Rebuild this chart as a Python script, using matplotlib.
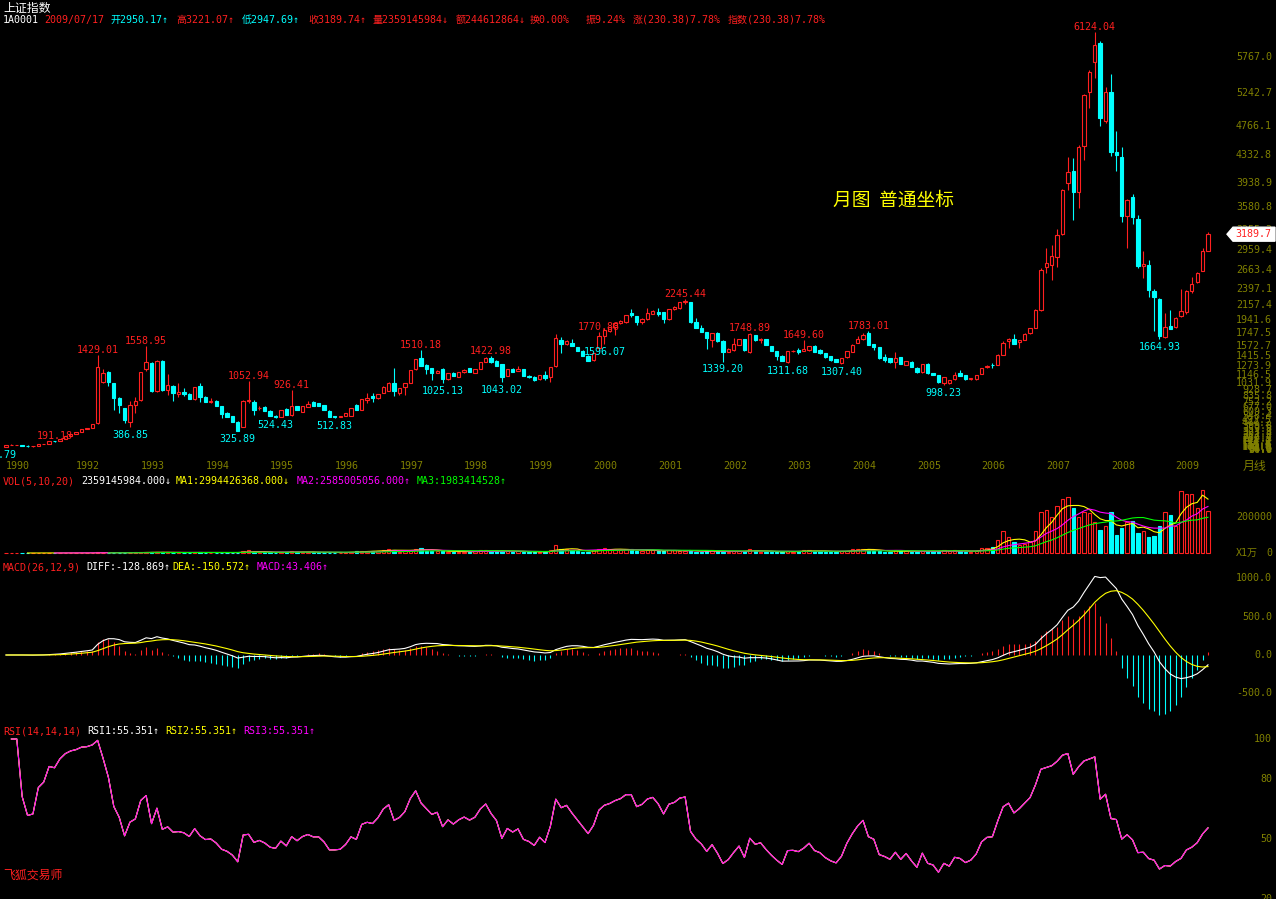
import numpy as np
import pandas as pd
import matplotlib; matplotlib.use("agg")
import matplotlib.pyplot as plt
from matplotlib.patches import Rectangle, Polygon

# monthly bars, Dec 1990 .. Jul 2009 (上证指数)
opens = [
    96.05,
    127.6, 130.0, 133.0, 120.2, 113.9, 114.8, 137.6, 145.2, 180.9, 180.2, 218.6, 259.6,
    292.8, 313.2, 364.8, 377.9, 443, 1040, 1193, 1023, 815, 660, 467, 709,
    781, 1231, 1323, 917, 1352, 926, 985, 868, 902, 868, 796, 985,
    830, 757, 767, 694, 588, 549, 462, 394, 767, 747, 660, 675,
    626, 554, 539, 646, 563, 694, 612, 684, 757, 733, 709, 626,
    545, 539, 549, 554, 709, 636, 781, 839, 805, 888, 917, 1033,
    878, 965, 1033, 1226, 1386, 1290, 1241, 1178, 1226, 1081, 1178, 1120,
    1183, 1241, 1178, 1231, 1338, 1396, 1348, 1299, 1130, 1236, 1207, 1226,
    1130, 1120, 1081, 1144, 1120, 1275, 1652, 1594, 1614, 1546, 1497, 1425,
    1362, 1540, 1714, 1783, 1836, 1894, 1909, 2040, 2001, 1909, 1957, 2030,
    2064, 2054, 1957, 2098, 2112, 2199, 2199, 1919, 1831, 1764, 1649, 1749,
    1638, 1483, 1507, 1580, 1662, 1483, 1725, 1652, 1662, 1565, 1497, 1425,
    1338, 1492, 1507, 1497, 1507, 1565, 1507, 1468, 1420, 1372, 1313, 1401,
    1483, 1614, 1662, 1759, 1594, 1546, 1401, 1386, 1328, 1401, 1289, 1338,
    1251, 1183, 1299, 1178, 1144, 1023, 1023, 1081, 1178, 1144, 1090, 1081,
    1159, 1255, 1290, 1290, 1435, 1638, 1667, 1619, 1653, 1750, 1832, 2089,
    2718, 2743, 2863, 3188, 3938, 4108, 3798, 4476, 5250, 5686, 5962, 4839,
    5250, 4388, 4306, 3459, 3725, 3410, 2733, 2742, 2365, 2249, 1702, 1857,
    1847, 2007, 2055, 2365, 2491, 2660, 2950.17,
]
highs = [
    127.61,
    135.2, 134.9, 134.9, 121.0, 116.0, 137.6, 146.0, 181.0, 191.18, 219.0, 260.0, 293.0,
    313.5, 365.0, 378.5, 440.0, 1429.01, 1226, 1200, 1030, 830, 670, 760, 830,
    1190, 1558.95, 1330, 1358, 1360, 1154, 1000, 1023, 951, 880, 975, 1023,
    840, 815, 775, 700, 600, 555, 470, 775, 1052.94, 781, 700, 690,
    640, 560, 640, 660, 926.41, 700, 700, 770, 770, 740, 715, 630,
    550, 548, 592, 665, 720, 800, 878, 878, 875, 980, 1040, 1241,
    955, 1025, 1220, 1375, 1510.18, 1300, 1250, 1210, 1240, 1170, 1185, 1190,
    1225, 1250, 1232, 1332, 1400, 1422.98, 1360, 1305, 1232, 1242, 1275, 1232,
    1140, 1125, 1150, 1198, 1260, 1739, 1700, 1650, 1668, 1552, 1505, 1430,
    1470, 1770.88, 1823, 1845, 1900, 1940, 2023, 2098, 2005, 1970, 2112, 2085,
    2112, 2065, 2110, 2148, 2210, 2245.44, 2205, 1967, 1870, 1770, 1760, 1773,
    1650, 1530, 1677, 1670, 1670, 1748.89, 1730, 1686, 1670, 1570, 1500, 1430,
    1500, 1510, 1532, 1649.60, 1570, 1575, 1515, 1470, 1425, 1380, 1390, 1500,
    1590, 1710, 1760, 1783.01, 1600, 1550, 1449, 1390, 1483, 1405, 1355, 1345,
    1260, 1305, 1323, 1180, 1150, 1115, 1075, 1192, 1216, 1150, 1100, 1150,
    1245, 1285, 1313, 1445, 1645, 1680, 1740, 1660, 1760, 1830, 2100, 2698,
    2985, 3033, 3265, 3840, 4316, 4292, 4480, 5230, 5580, 6124.04, 5995, 5332,
    5512, 4689, 4451, 3700, 3774, 3468, 2946, 2815, 2390, 2260, 2040, 2089,
    1991, 2394, 2380, 2565, 2640, 2985, 3221.07,
]
lows = [
    95.79,
    127.6, 129.0, 120.0, 105.0, 104.0, 114.0, 137.0, 145.0, 178.0, 180.0, 218.0, 259.0,
    292.0, 313.0, 364.0, 377.0, 440.0, 1030, 990, 636, 588, 443, 386.85, 588,
    770, 1200, 900, 900, 910, 854, 772, 820, 839, 790, 780, 747,
    750, 743, 690, 525, 530, 460, 325.89, 390, 740, 560, 643, 620,
    550, 524.43, 530, 560, 550, 630, 600, 680, 690, 690, 630, 535,
    512.83, 535, 545, 550, 630, 630, 743, 757, 800, 885, 915, 839,
    854, 854, 1030, 1220, 1270, 1154, 1072, 1170, 1025.13, 1075, 1125, 1110,
    1178, 1188, 1170, 1228, 1335, 1325, 1270, 1043.02, 1125, 1188, 1200, 1125,
    1100, 1064, 1075, 1072, 1050, 1260, 1470, 1580, 1560, 1490, 1418, 1341,
    1355, 1530, 1596.07, 1770, 1725, 1890, 1900, 1981, 1870, 1890, 1950, 2025,
    2006, 1894, 1950, 2090, 2105, 2180, 1900, 1820, 1765, 1517, 1555, 1628,
    1339.20, 1475, 1500, 1575, 1500, 1470, 1640, 1614, 1575, 1490, 1362, 1345,
    1311.68, 1480, 1445, 1490, 1500, 1475, 1450, 1395, 1355, 1330, 1307.40, 1395,
    1480, 1605, 1655, 1575, 1507, 1380, 1338, 1320, 1241, 1300, 1285, 1260,
    1180, 1180, 1165, 1140, 1035, 998.23, 1020, 1075, 1125, 1075, 1075, 1075,
    1155, 1250, 1241, 1285, 1430, 1541, 1595, 1542, 1650, 1745, 1825, 2080,
    2621, 2524, 2718, 3180, 3832, 3396, 3565, 4267, 5018, 5460, 4766, 4800,
    4330, 4112, 3362, 2985, 3333, 2694, 2558, 2283, 1784, 1664.93, 1678, 1810,
    1832, 1990, 2037, 2330, 2480, 2650, 2947.69,
]
closes = [
    127.61,
    130.0, 133.0, 120.2, 113.9, 114.8, 137.6, 145.2, 180.9, 180.2, 218.6, 259.6, 292.8,
    313.2, 364.8, 377.9, 439.5, 1266, 1168, 1047, 815, 709, 491, 709, 767,
    1183, 1328, 917, 1352, 926, 994, 878, 893, 868, 796, 965, 830,
    757, 767, 694, 578, 539, 467, 333, 767, 781, 636, 670, 626,
    554, 534, 636, 563, 694, 636, 694, 723, 694, 694, 636, 539,
    539, 545, 588, 660, 636, 791, 815, 805, 868, 975, 1033, 917,
    951, 1023, 1217, 1372, 1275, 1226, 1178, 1207, 1081, 1168, 1130, 1183,
    1217, 1193, 1226, 1328, 1396, 1328, 1275, 1120, 1226, 1193, 1226, 1130,
    1110, 1072, 1144, 1096, 1255, 1676, 1594, 1638, 1565, 1497, 1425, 1352,
    1460, 1705, 1800, 1836, 1894, 1933, 2015, 2015, 1919, 1957, 2049, 2078,
    2030, 1952, 2098, 2127, 2199, 2218, 1919, 1831, 1773, 1677, 1749, 1638,
    1483, 1522, 1594, 1662, 1507, 1735, 1652, 1670, 1580, 1497, 1420, 1352,
    1497, 1500, 1483, 1517, 1565, 1483, 1459, 1401, 1362, 1338, 1386, 1492,
    1580, 1662, 1725, 1580, 1555, 1386, 1362, 1328, 1386, 1304, 1352, 1265,
    1183, 1299, 1168, 1144, 1038, 1110, 1072, 1144, 1130, 1081, 1099, 1144,
    1241, 1280, 1285, 1435, 1614, 1668, 1595, 1653, 1735, 1823, 2089, 2670,
    2767, 2873, 3178, 3832, 4098, 3807, 4461, 5211, 5540, 5938, 4872, 5250,
    4379, 4340, 3459, 3686, 3435, 2733, 2752, 2379, 2283, 1716, 1847, 1813,
    1968, 2074, 2365, 2462, 2621, 2946, 3189.74,
]
# volume, units of 万
volumes = [
    50,
    80, 60, 70, 60, 50, 90, 100, 150, 200, 250, 300, 350,
    500, 700, 800, 900, 3500, 2500, 2000, 1500, 1500, 1200, 2500, 2800,
    4000, 5000, 4000, 4500, 3500, 3000, 2500, 3000, 2500, 2000, 3500, 3000,
    2500, 2000, 2500, 2500, 2500, 2000, 2500, 12000, 15000, 6000, 4000, 3000,
    3000, 2500, 4000, 3500, 12000, 4000, 4500, 5000, 3500, 3000, 2500, 2000,
    2000, 1500, 3000, 8000, 9000, 12000, 9000, 9000, 12000, 18000, 20000, 18000,
    8000, 10000, 18000, 25000, 28000, 12000, 10000, 9000, 10000, 8000, 7000, 8000,
    7000, 6000, 9000, 14000, 15000, 12000, 9000, 10000, 9000, 7000, 9000, 8000,
    6000, 5000, 7000, 7000, 15000, 45000, 20000, 22000, 15000, 9000, 8000, 7000,
    15000, 25000, 28000, 20000, 16000, 17000, 20000, 22000, 12000, 12000, 16000, 14000,
    10000, 9000, 18000, 14000, 12000, 13000, 12000, 8000, 7000, 10000, 14000, 9000,
    7000, 5000, 12000, 13000, 9000, 20000, 12000, 8000, 6000, 6000, 8000, 6000,
    10000, 8000, 10000, 16000, 15000, 10000, 9000, 8000, 7000, 8000, 9000, 12000,
    20000, 22000, 25000, 20000, 10000, 9000, 7000, 8000, 15000, 10000, 10000, 8000,
    7000, 12000, 10000, 10000, 9000, 14000, 10000, 14000, 12000, 8000, 8000, 12000,
    30000, 28000, 35000, 70000, 120000, 90000, 60000, 45000, 50000, 60000, 120000, 230000,
    240000, 200000, 260000, 300000, 310000, 250000, 200000, 230000, 220000, 170000, 130000, 150000,
    230000, 100000, 140000, 170000, 180000, 110000, 120000, 90000, 91825, 150000, 230000, 212792,
    150000, 345000, 330000, 330000, 250000, 351298, 235915,
]
year_labels = ["1990", "1992", "1993", "1994", "1995", "1996", "1997", "1998", "1999", "2000",
               "2001", "2002", "2003", "2004", "2005", "2006", "2007", "2008", "2009"]
year_bars = [0, 13, 25, 37, 49, 61, 73, 85, 97, 109, 121, 133, 145, 157, 169, 181, 193, 205, 217]
high_marks = [9, 17, 26, 45, 53, 77, 90, 110, 126, 138, 148, 160, 202]
low_marks = [0, 23, 43, 50, 61, 81, 92, 111, 133, 145, 155, 174, 214]
price_ticks = ["5767.0", "5242.7", "4766.1", "4332.8", "3938.9", "3580.8", "3255.3", "2959.4",
               "2663.4", "2397.1", "2157.4", "1941.6", "1747.5", "1572.7", "1415.5", "1273.9",
               "1146.5", "1031.9", "928.7", "835.8", "752.2", "677.0", "609.3", "548.4", "493.5",
               "444.2", "399.8", "359.8", "323.8", "291.4", "262.3", "236.1", "212.5", "191.2",
               "172.1", "154.9", "139.4", "125.5", "112.9", "101.6", "91.5", "82.3", "74.1",
               "66.7", "60.0", "54.0"]
macd_ticks = ["1000.0", "500.0", "0.0", "-500.0"]
rsi_ticks = ["100", "80", "50", "20"]

W, H = 1276, 899
PW = 1215            # plot width in pixels
X0, DX = 6.0, 5.39   # first bar pixel, bar spacing
RED, CYAN, OLIVE = "#FF2020", "#00FFFF", "#808000"
MONO = ["DejaVu Sans Mono", "Noto Sans CJK SC"]
CJK = ["Noto Sans CJK SC", "DejaVu Sans"]
LW = 0.8

o, h, l, c = (np.array(a, dtype=float) for a in (opens, highs, lows, closes))
v = np.array(volumes, dtype=float)
idx = np.arange(len(c))
up = c >= o

fig = plt.figure(figsize=(W / 100, H / 100), dpi=100, facecolor="black")
XL = (-X0 / DX, (PW - X0) / DX)


def panel(top, bottom, ylim):
    ax = fig.add_axes([0, 1 - bottom / H, PW / W, (bottom - top) / H])
    ax.set_xlim(XL); ax.set_ylim(ylim); ax.axis("off")
    return ax


def ftxt(x, y, s, color, size=7.2, ha="left", fam=MONO):
    fig.text(x / W, 1 - y / H, s, color=color, fontsize=size, ha=ha, va="center", family=fam)


def rtick(ax, val, s, color=OLIVE):
    ax.text(1272 / PW, val, s, transform=ax.get_yaxis_transform(), color=color,
            fontsize=7.2, ha="right", va="center", family=MONO)


# ---- price panel (linear, 0.06885 px per point, 0 at y=453.8)
k = 0.06885
axp = panel(28, 458, ((453.8 - 458) / k, (453.8 - 28) / k))
bw = 0.62
for i in idx:
    if up[i]:
        axp.vlines(i, c[i], h[i], color=RED, lw=LW)
        axp.vlines(i, l[i], o[i], color=RED, lw=LW)
        axp.add_patch(Rectangle((i - bw / 2, o[i]), bw, c[i] - o[i], fc="black", ec=RED, lw=LW, zorder=3))
    else:
        axp.vlines(i, l[i], h[i], color=CYAN, lw=LW)
        axp.add_patch(Rectangle((i - bw / 2, c[i]), bw, o[i] - c[i], fc=CYAN, ec=CYAN, lw=LW, zorder=3))
for i in high_marks:
    axp.annotate(f"{h[i]:.2f}", (i, h[i]), xytext=(0, 0), textcoords="offset points", ha="center",
                 va="bottom", color=RED, fontsize=7.2, family=MONO, annotation_clip=False)
for i in low_marks:
    dx = -3 if i == 0 else 0   # first low label runs off the left edge
    axp.annotate(f"{l[i]:.2f}", (i, l[i]), xytext=(dx, -2), textcoords="offset points", ha="center",
                 va="top", color=CYAN, fontsize=7.2, family=MONO, annotation_clip=False)
for s in price_ticks:
    rtick(axp, float(s), s)
for s, i in zip(year_labels, year_bars):
    axp.text(i, -0.0186, s, transform=axp.get_xaxis_transform(), color=OLIVE, fontsize=7.2,
             ha="left", va="center", family=MONO)
# last price marker
yy = 453.8 - k * c[-1]
fig.patches.append(Polygon([(1227 / W, 1 - yy / H), (1233 / W, 1 - (yy - 7) / H), (1275 / W, 1 - (yy - 7) / H),
                            (1275 / W, 1 - (yy + 7) / H), (1233 / W, 1 - (yy + 7) / H)],
                           closed=True, transform=fig.transFigure, fc="white", ec="white", zorder=5))
fig.text(1253 / W, 1 - yy / H, f"{c[-1]:.1f}", color=RED, fontsize=7.2, ha="center", va="center",
         family=MONO, zorder=6)
ftxt(833, 200, "月图  普通坐标", "#FFFF00", size=13.5, fam=CJK)
ftxt(1243, 466, "月线", OLIVE, size=8.6, fam=CJK)

# ---- volume panel (36 px per 200000)
axv = panel(487, 555, (-(555 - 553) / 36 * 200000, (553 - 487) / 36 * 200000))
for i in idx:
    if up[i]:
        axv.add_patch(Rectangle((i - bw / 2, 0), bw, v[i], fc="black", ec=RED, lw=LW))
    else:
        axv.add_patch(Rectangle((i - bw / 2, 0), bw, v[i], fc=CYAN, ec=CYAN, lw=LW))
vs = pd.Series(v)
for n, col in ((5, "#FFFF00"), (10, "#FF00FF"), (20, "#00FF00")):
    axv.plot(idx, vs.rolling(n).mean(), color=col, lw=LW)
rtick(axv, 200000, "200000")
rtick(axv, 0, "0")
ftxt(1236, 553, "X1万", OLIVE, size=7.2)


# ---- MACD (26,12,9)
def ema(x, n):
    out = np.empty(len(x)); out[0] = x[0]
    for j in range(1, len(x)):
        out[j] = (2 * x[j] + (n - 1) * out[j - 1]) / (n + 1)
    return out


diff = ema(c, 12) - ema(c, 26)
dea = ema(diff, 9)
macd = 2 * (diff - dea)
km = 38.3 / 500
axm = panel(570, 720, (-(720 - 655) / km, (655 - 570) / km))
axm.vlines(idx, 0, macd, colors=np.where(macd >= 0, RED, CYAN), lw=LW)
axm.plot(idx, diff, color="white", lw=LW)
axm.plot(idx, dea, color="#FFFF00", lw=LW)
for s in macd_ticks:
    rtick(axm, float(s), s)


# ---- RSI (14,14,14)
def sma(x, n, m=1):
    out = np.empty(len(x)); out[0] = x[0]
    for j in range(1, len(x)):
        out[j] = (m * x[j] + (n - m) * out[j - 1]) / n
    return out


d = np.diff(c)
rsi = sma(np.maximum(d, 0), 14) / sma(np.abs(d), 14) * 100
axr = panel(725, 899, (20, 107))
for col in ("white", "#FFFF00", "#FF00FF"):
    axr.plot(idx[1:], rsi, color=col, lw=LW)
for s in rsi_ticks:
    rtick(axr, float(s), s)

# ---- header texts
ftxt(3, 8, "上证指数", "white", size=8.6, fam=CJK)
for x, s, col in [(3, "1A0001", "white"), (44, "2009/07/17", RED), (110, "开2950.17↑", CYAN),
                  (176, "高3221.07↑", RED), (242, "低2947.69↑", CYAN), (308, "收3189.74↑", RED),
                  (372, "量2359145984↓", RED), (456, "额244612864↓", RED), (530, "换0.00%", RED),
                  (586, "振9.24%", RED), (633, "涨(230.38)7.78%", RED), (728, "指数(230.38)7.78%", RED)]:
    ftxt(x, 20, s, col)
for x, s, col in [(3, "VOL(5,10,20)", RED), (81, "2359145984.000↓", "white"),
                  (176, "MA1:2994426368.000↓", "#FFFF00"), (297, "MA2:2585005056.000↑", "#FF00FF"),
                  (417, "MA3:1983414528↑", "#00FF00")]:
    ftxt(x, 481, s, col)
for x, s, col in [(3, "MACD(26,12,9)", RED), (86, "DIFF:-128.869↑", "white"),
                  (172, "DEA:-150.572↑", "#FFFF00"), (257, "MACD:43.406↑", "#FF00FF")]:
    ftxt(x, 567, s, col)
for x, s, col in [(3, "RSI(14,14,14)", RED), (87, "RSI1:55.351↑", "white"),
                  (165, "RSI2:55.351↑", "#FFFF00"), (243, "RSI3:55.351↑", "#FF00FF")]:
    ftxt(x, 731, s, col)
ftxt(3, 875, "飞狐交易师", RED, size=8.6, fam=CJK)

fig.savefig("out.png", dpi=100, facecolor="black")
